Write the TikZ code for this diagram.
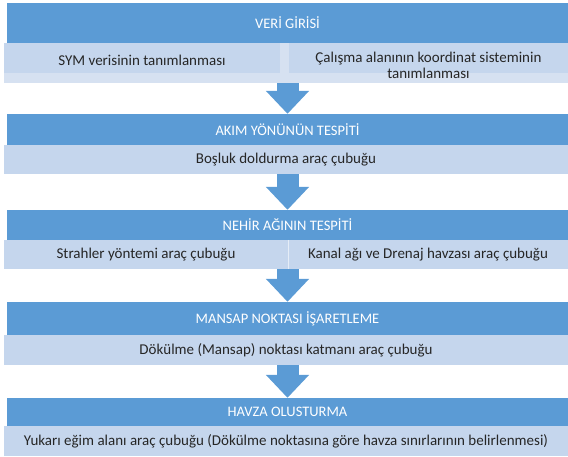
\documentclass[tikz,border=0pt]{standalone}
\usepackage{fontspec}
\setmainfont{Carlito}
\usetikzlibrary{arrows.meta}
\definecolor{koyumavi}{RGB}{91,155,213}
\definecolor{acikmavi}{RGB}{197,214,237}
\definecolor{soluk}{RGB}{214,225,241}
\definecolor{yazi}{RGB}{38,38,38}
\tikzstyle{baslik}=[rectangle,fill=koyumavi,text=white,minimum width=561pt,inner sep=0pt,font=\fontsize{14.5}{17}\selectfont]
\tikzstyle{alt}=[rectangle,fill=acikmavi,text=yazi,inner sep=0pt,align=center,font=\fontsize{15}{16}\selectfont]
\tikzstyle{ok}=[koyumavi,line width=22pt,-{Triangle[width=42pt,length=23pt]}]

\begin{document}
\begin{tikzpicture}[x=1pt,y=-1pt]
  \useasboundingbox (0,0) rectangle (568,456);
  % basliklar
  \foreach \name/\ys/\ya/\text in {h1/3/43/VERİ GİRİSİ, h2/114/145/AKIM YÖNÜNÜN TESPİTİ,
                                   h3/210/240/NEHİR AĞININ TESPİTİ, h4/302/335/MANSAP NOKTASI İŞARETLEME,
                                   h5/398/426/HAVZA OLUSTURMA}
    \node[baslik,minimum height={(\ya-\ys)*1pt}] (\name) at (287.5,{(\ys+\ya)/2}) {\text};
  % alt kutular
  \node[rectangle,fill=soluk,minimum width=564pt,minimum height=40pt,inner sep=0pt] (band) at (286,63) {};
  \node[alt,minimum width=276pt,minimum height=30pt] (s1a) at (142,58) {};
  \node[alt,minimum width=279pt,minimum height=30pt] (s1b) at (428.5,58) {};
  \node[alt,fill=none] (s1at) at (142,60) {SYM verisinin  tanımlanması};
  \node[alt,fill=none] (s1bt) at (428.5,65) {Çalışma alanının  koordinat  sisteminin\\tanımlanması};
  \node[alt,minimum width=564pt,minimum height=29pt] (s2) at (286,159.5) {Boşluk  doldurma  araç çubuğu};
  \node[alt,minimum width=284pt,minimum height=29pt] (s3a) at (146,254.5) {Strahler  yöntemi  araç  çubuğu};
  \node[alt,minimum width=280pt,minimum height=29pt] (s3b) at (428,254.5) {Kanal ağı ve Drenaj  havzası araç çubuğu};
  \node[alt,minimum width=564pt,minimum height=30pt] (s4) at (286,350) {Dökülme  (Mansap) noktası  katmanı  araç çubuğu};
  \node[alt,minimum width=564pt,minimum height=30pt] (s5) at (286,441) {Yukarı eğim alanı araç çubuğu (Dökülme  noktasına  göre havza  sınırlarının  belirlenmesi)};
  \draw[white!55!acikmavi,line width=1pt] (s3a.north east) -- (s3a.south east);
  % oklar
  \draw[ok] (h1.south |- band.south) -- (h2.north);
  \draw[ok] (h2.south |- s2.south) -- (h3.north);
  \draw[ok] (h3.south |- s3a.south) -- (h4.north);
  \draw[ok] (h4.south |- s4.south) -- (h5.north);
\end{tikzpicture}
\end{document}
